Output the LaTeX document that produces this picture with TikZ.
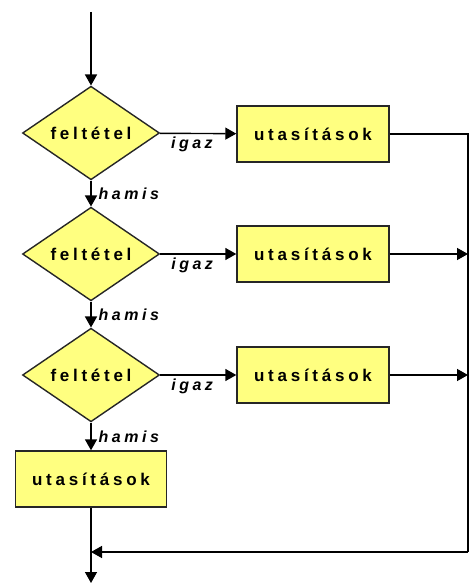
\documentclass[tikz,border=0pt]{standalone}
\usepackage{fontspec}
\usepackage{tikz}
\usetikzlibrary{shapes.geometric,arrows.meta}
\newfontfamily\flowfont[LetterSpace=22]{Liberation Sans}
\definecolor{boxyellow}{RGB}{255,255,128}
\tikzset{
    DEC/.style ={diamond, minimum width = 137pt, minimum height = 88pt, inner sep=0pt, draw=black!85, line width=1.4pt, fill=boxyellow, font=\flowfont\bfseries\fontsize{17}{19}\selectfont},
    STM/.style ={rectangle, minimum width = 152pt, minimum height = 56pt, draw=black!85, line width=1.4pt, fill=boxyellow, font=\flowfont\bfseries\fontsize{17}{19}\selectfont},
    LAB/.style ={font=\flowfont\bfseries\itshape\fontsize{16}{18}\selectfont, inner sep=1pt},
    FL/.style ={line width=1.4pt, -{Triangle[length=11pt,width=12pt]}},
    LN/.style ={line width=1.8pt}}
\begin{document}
\begin{tikzpicture}[x=1pt,y=-1pt]
        \useasboundingbox (0,0) rectangle (475,583);
        \node[DEC] (dec1) at (91,133) {feltétel};
        \node[DEC] (dec2) at (91,254) {feltétel};
        \node[DEC] (dec3) at (91,375) {feltétel};
        \node[STM] (stm1) at (313,134) {utasítások};
        \node[STM] (stm2) at (313,254) {utasítások};
        \node[STM] (stm3) at (313,375) {utasítások};
        \node[STM, minimum width=151pt] (stm4) at (91,479) {utasítások};
        \coordinate (start) at (91,12);
        \coordinate (rt) at (468,134);
        \coordinate (rb) at (468,552);
        \coordinate (join) at (91,552);
        \coordinate (end) at (91,583);
        \draw[FL] (start) -- (dec1);
        \foreach \i/\j in {1/2,2/3,3/4}{
            \draw[FL] (dec\i) -- node[LAB, pos=0.42, below=2pt]{igaz} (stm\i);
            \ifnum\j<4 \draw[FL] (dec\i) -- node[LAB, right=6pt]{hamis} (dec\j);
            \else \draw[FL] (dec\i) -- node[LAB, right=6pt]{hamis} (stm\j);\fi}
        \draw[LN] (stm1.east) -- (rt) -- (rb);
        \draw[FL] (rb) -- (join);
        \draw[FL] (stm2) -- (stm2 -| rt);
        \draw[FL] (stm3) -- (stm3 -| rt);
        \draw[FL] (stm4) -- (end);
    \end{tikzpicture}
\end{document}
